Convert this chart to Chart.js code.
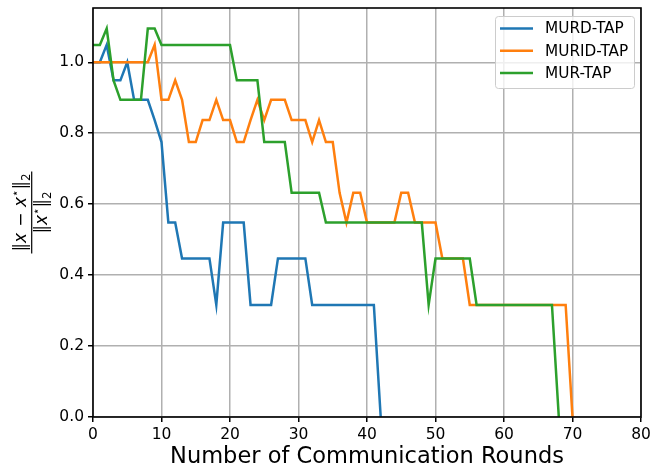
<!DOCTYPE html>
<html>
<head>
<meta charset="utf-8">
<script src="https://cdn.jsdelivr.net/npm/chart.js@4.4.1/dist/chart.umd.min.js"></script>
<style>
  html, body { margin: 0; padding: 0; background: #fff; }
  canvas { display: block; }
</style>
</head>
<body>
<canvas id="roundsChart" width="652" height="470"></canvas>
<script>
// values per communication round (index = round)
const murdTap = [1.0, 1.0, 1.049, 0.949, 0.949, 1.0, 0.894, 0.894, 0.894, 0.837,
    0.775, 0.548, 0.548, 0.447, 0.447, 0.447, 0.447, 0.447, 0.316, 0.548,
    0.548, 0.548, 0.548, 0.316, 0.316, 0.316, 0.316, 0.447, 0.447, 0.447,
    0.447, 0.447, 0.316, 0.316, 0.316, 0.316, 0.316, 0.316, 0.316, 0.316,
    0.316, 0.316, 0.0];
const muridTap = [1.0, 1.0, 1.0, 1.0, 1.0, 1.0, 1.0, 1.0, 1.0, 1.049,
    0.894, 0.894, 0.949, 0.894, 0.775, 0.775, 0.837, 0.837, 0.894, 0.837,
    0.837, 0.775, 0.775, 0.837, 0.894, 0.837, 0.894, 0.894, 0.894, 0.837,
    0.837, 0.837, 0.775, 0.837, 0.775, 0.775, 0.632, 0.548, 0.632, 0.632,
    0.548, 0.548, 0.548, 0.548, 0.548, 0.632, 0.632, 0.548, 0.548, 0.548,
    0.548, 0.447, 0.447, 0.447, 0.447, 0.316, 0.316, 0.316, 0.316, 0.316,
    0.316, 0.316, 0.316, 0.316, 0.316, 0.316, 0.316, 0.316, 0.316, 0.316,
    0.0];
const murTap = [1.049, 1.049, 1.095, 0.949, 0.894, 0.894, 0.894, 0.894, 1.095, 1.095,
    1.049, 1.049, 1.049, 1.049, 1.049, 1.049, 1.049, 1.049, 1.049, 1.049,
    1.049, 0.949, 0.949, 0.949, 0.949, 0.775, 0.775, 0.775, 0.775, 0.632,
    0.632, 0.632, 0.632, 0.632, 0.548, 0.548, 0.548, 0.548, 0.548, 0.548,
    0.548, 0.548, 0.548, 0.548, 0.548, 0.548, 0.548, 0.548, 0.548, 0.316,
    0.447, 0.447, 0.447, 0.447, 0.447, 0.447, 0.316, 0.316, 0.316, 0.316,
    0.316, 0.316, 0.316, 0.316, 0.316, 0.316, 0.316, 0.316, 0.0];

const seriesNames = ['MURD-TAP', 'MURID-TAP', 'MUR-TAP'];
const seriesColors = ['#1f77b4', '#ff7f0e', '#2ca02c'];
const xTicks = [0, 10, 20, 30, 40, 50, 60, 70, 80];
const yTicks = [0.0, 0.2, 0.4, 0.6, 0.8, 1.0];
const xTitle = 'Number of Communication Rounds';

const FONT = '"DejaVu Sans", sans-serif';
Chart.defaults.font.family = FONT;

function toPoints(values) {
    return values.map((v, i) => ({ x: i, y: v }));
}

// black box round the plot, drawn over the lines like the spines
const framePlugin = {
    id: 'frame',
    afterDatasetsDraw(chart) {
        const { ctx, chartArea: a } = chart;
        ctx.save();
        ctx.strokeStyle = '#000';
        ctx.lineWidth = 1.6;
        ctx.strokeRect(a.left, a.top, a.right - a.left, a.bottom - a.top);
        ctx.restore();
    }
};

const boxLegendPlugin = {
    id: 'boxLegend',
    afterDraw(chart) {
        const ctx = chart.ctx;
        const x = 495, y = 16, w = 139, h = 72;
        ctx.save();
        ctx.beginPath();
        ctx.roundRect(x + 0.5, y + 0.5, w, h, 3);
        ctx.fillStyle = 'rgba(255,255,255,0.8)';
        ctx.fill();
        ctx.strokeStyle = '#cccccc';
        ctx.lineWidth = 1;
        ctx.stroke();
        ctx.font = '15.3px ' + FONT;
        ctx.textBaseline = 'middle';
        ctx.fillStyle = '#000';
        chart.data.datasets.forEach((ds, i) => {
            const rowY = 28.5 + i * 22.2;
            ctx.strokeStyle = ds.borderColor;
            ctx.lineWidth = 2.5;
            ctx.beginPath();
            ctx.moveTo(500, rowY);
            ctx.lineTo(533, rowY);
            ctx.stroke();
            ctx.fillText(ds.label, 545, rowY + 1);
        });
        ctx.restore();
    }
};

function drawRun(ctx, parts, baseline) {
    let total = 0;
    parts.forEach(p => {
        ctx.font = p.font;
        p.w = ctx.measureText(p.text).width;
        total += p.w + (p.gap || 0);
    });
    let x = -total / 2;
    parts.forEach(p => {
        ctx.font = p.font;
        ctx.fillText(p.text, x, baseline + (p.dy || 0));
        x += p.w + (p.gap || 0);
    });
    return total;
}

// y label: ||x - x*||_2 / ||x*||_2 as a fraction, rotated
const fractionLabelPlugin = {
    id: 'fractionLabel',
    afterDraw(chart) {
        const ctx = chart.ctx;
        const a = chart.chartArea;
        const size = 17;
        const small = size * 0.7;
        const up = 'normal ' + size + 'px ' + FONT;
        const it = 'italic ' + size + 'px ' + FONT;
        const sm = 'normal ' + small + 'px ' + FONT;
        ctx.save();
        ctx.translate(31.7, (a.top + a.bottom) / 2);
        ctx.rotate(-Math.PI / 2);
        ctx.fillStyle = '#000';
        ctx.textBaseline = 'alphabetic';
        const numW = drawRun(ctx, [
            { text: '\u2016', font: up },
            { text: 'x', font: it, gap: 1 },
            { text: ' \u2212 ', font: up },
            { text: 'x', font: it },
            { text: '\u22c6', font: sm, dy: -7 },
            { text: '\u2016', font: up },
            { text: '2', font: sm, dy: 4 }
        ], -6);
        drawRun(ctx, [
            { text: '\u2016', font: up },
            { text: 'x', font: it },
            { text: '\u22c6', font: sm, dy: -7 },
            { text: '\u2016', font: up },
            { text: '2', font: sm, dy: 4 }
        ], 15);
        ctx.strokeStyle = '#000';
        ctx.lineWidth = 1.2;
        ctx.beginPath();
        ctx.moveTo(-numW / 2 - 2, 0);
        ctx.lineTo(numW / 2 + 2, 0);
        ctx.stroke();
        ctx.restore();
    }
};

const datasets = [murdTap, muridTap, murTap].map((values, i) => ({
    label: seriesNames[i],
    data: toPoints(values),
    borderColor: seriesColors[i],
    backgroundColor: seriesColors[i],
    borderWidth: 2.5,
    pointRadius: 0,
    tension: 0,
    fill: false,
    order: 3 - i
}));

const ctx = document.getElementById('roundsChart').getContext('2d');
new Chart(ctx, {
    type: 'line',
    data: { datasets: datasets },
    plugins: [framePlugin, boxLegendPlugin, fractionLabelPlugin],
    options: {
        responsive: false,
        animation: false,
        layout: { padding: { top: 8, right: 11, left: 0, bottom: 0 } },
        plugins: {
            legend: { display: false },
            tooltip: { enabled: false }
        },
        scales: {
            x: {
                type: 'linear',
                min: 0,
                max: 80,
                afterBuildTicks(scale) {
                    scale.ticks = xTicks.map(v => ({ value: v }));
                },
                afterFit(scale) {
                    scale.height = 53;
                    scale.paddingLeft = 0;
                    scale.paddingRight = 0;
                },
                grid: {
                    color: '#b0b0b0',
                    lineWidth: 1.5,
                    tickColor: '#000',
                    tickLength: 5,
                    tickWidth: 1.5
                },
                border: { display: false },
                ticks: {
                    color: '#000',
                    font: { size: 15.5 },
                    padding: 4,
                    maxRotation: 0,
                    autoSkip: false,
                    callback: v => String(v)
                },
                title: {
                    display: true,
                    text: xTitle,
                    color: '#000',
                    font: { size: 22.5 },
                    padding: { top: 0, bottom: -1 }
                }
            },
            y: {
                type: 'linear',
                min: 0,
                max: 1.153,
                afterBuildTicks(scale) {
                    scale.ticks = yTicks.map(v => ({ value: v }));
                },
                afterFit(scale) {
                    scale.width = 93;
                    scale.paddingTop = 0;
                    scale.paddingBottom = 0;
                },
                grid: {
                    color: '#b0b0b0',
                    lineWidth: 1.5,
                    tickColor: '#000',
                    tickLength: 5,
                    tickWidth: 1.5
                },
                border: { display: false },
                ticks: {
                    color: '#000',
                    font: { size: 15.5 },
                    padding: 4,
                    autoSkip: false,
                    callback: v => v.toFixed(1)
                }
            }
        }
    }
});
</script>
</body>
</html>
